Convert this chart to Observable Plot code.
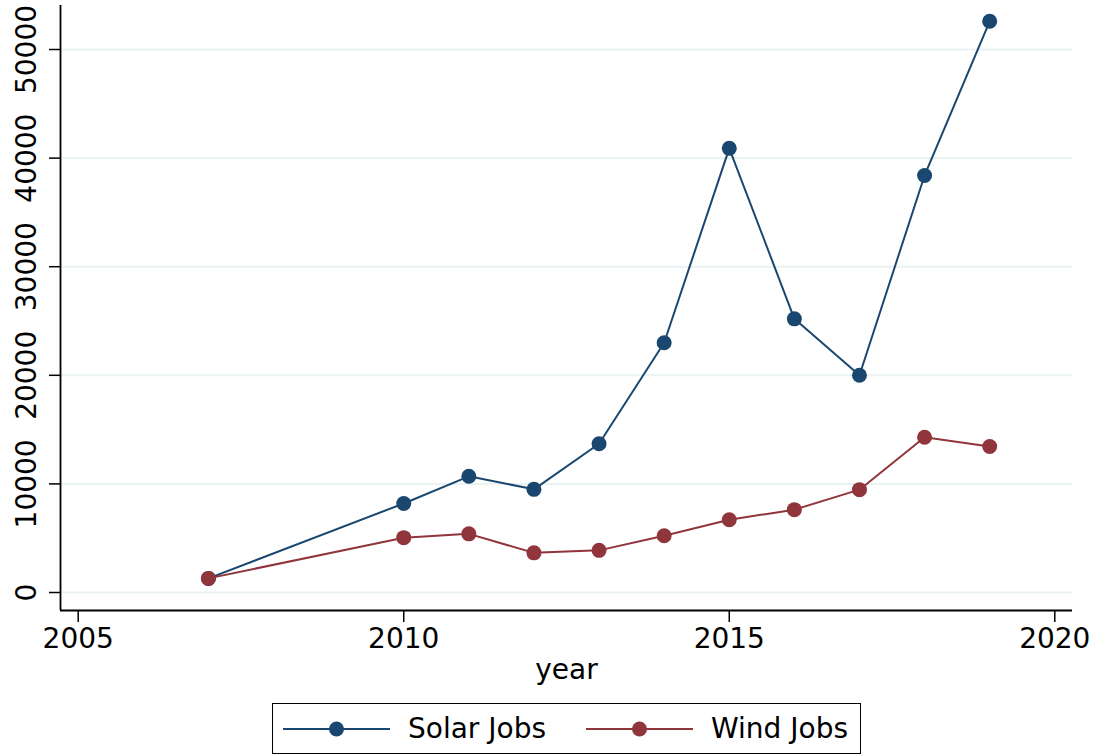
<!DOCTYPE html>
<html>
<head>
<meta charset="utf-8">
<script src="https://cdn.jsdelivr.net/npm/d3@7"></script>
<script src="https://cdn.jsdelivr.net/npm/@observablehq/plot@0.6"></script>
<style>
  html, body { margin: 0; padding: 0; background: #fff; }
  #wrap { position: relative; width: 1097px; height: 755px; font-family: "DejaVu Sans", sans-serif; }
  #legend { position: absolute; left: 272px; top: 703px; width: 589px; height: 51px; box-sizing: border-box;
            border: 1.5px solid #000; display: flex; align-items: center; padding-left: 10px; }
  .item { display: flex; align-items: center; font-size: 28px; color: #000; }
  .item span { margin-left: 18px; }
  .item + .item { margin-left: 40px; }
</style>
</head>
<body>
<div id="wrap"><div id="chart"></div><div id="legend"></div></div>
<script>
const years = [2007, 2010, 2011, 2012, 2013, 2014, 2015, 2016, 2017, 2018, 2019];
const solarJobs = [1300, 8200, 10700, 9500, 13700, 23000, 40900, 25200, 20000, 38400, 52600];
const windJobs = [1300, 5050, 5400, 3650, 3880, 5230, 6700, 7630, 9470, 14300, 13450];
const seriesNames = ["Solar Jobs", "Wind Jobs"];
const seriesColors = ["#1a476f", "#90353b"];
const xTicks = [2005, 2010, 2015, 2020];
const yTicks = [0, 10000, 20000, 30000, 40000, 50000];
const xDomain = [2004.728, 2020.272];
const yDomain = [-1657, 54052];

const solar = years.map((y, i) => ({year: y, value: solarJobs[i]}));
const wind = years.map((y, i) => ({year: y, value: windJobs[i]}));

const chart = Plot.plot({
  width: 1097,
  height: 700,
  marginLeft: 60,
  marginRight: 25,
  marginTop: 5,
  marginBottom: 90,
  style: {fontFamily: "DejaVu Sans", fontSize: "28px", background: "#fff", color: "#000"},
  x: {domain: xDomain},
  y: {domain: yDomain},
  marks: [
    Plot.gridY(yTicks, {stroke: "#eaf2f3", strokeOpacity: 1, strokeWidth: 2}),
    Plot.axisY(yTicks, {tickRotate: -90, tickSize: 11, tickPadding: 14, tickFormat: "d", label: null, strokeWidth: 1.5}),
    Plot.axisX(xTicks, {tickSize: 12, tickPadding: 6, tickFormat: "d", label: "year", labelAnchor: "center", labelArrow: "none", labelOffset: 68, strokeWidth: 1.5}),
    Plot.ruleX([xDomain[0]], {stroke: "#000", strokeWidth: 1.8}),
    Plot.ruleY([yDomain[0]], {stroke: "#000", strokeWidth: 1.8}),
    Plot.line(solar, {x: "year", y: "value", stroke: seriesColors[0], strokeWidth: 2}),
    Plot.dot(solar, {x: "year", y: "value", r: 7.5, fill: seriesColors[0], stroke: "none"}),
    Plot.line(wind, {x: "year", y: "value", stroke: seriesColors[1], strokeWidth: 2}),
    Plot.dot(wind, {x: "year", y: "value", r: 7.5, fill: seriesColors[1], stroke: "none"})
  ]
});
document.getElementById("chart").appendChild(chart);

const legend = d3.select("#legend");
seriesNames.forEach((name, i) => {
  const item = legend.append("div").attr("class", "item");
  const sw = item.append("svg").attr("width", 107).attr("height", 20);
  sw.append("line").attr("x1", 0).attr("x2", 107).attr("y1", 10).attr("y2", 10)
    .attr("stroke", seriesColors[i]).attr("stroke-width", 2);
  sw.append("circle").attr("cx", 53.5).attr("cy", 10).attr("r", 7.5).attr("fill", seriesColors[i]);
  item.append("span").text(name);
});
</script>
</body>
</html>
